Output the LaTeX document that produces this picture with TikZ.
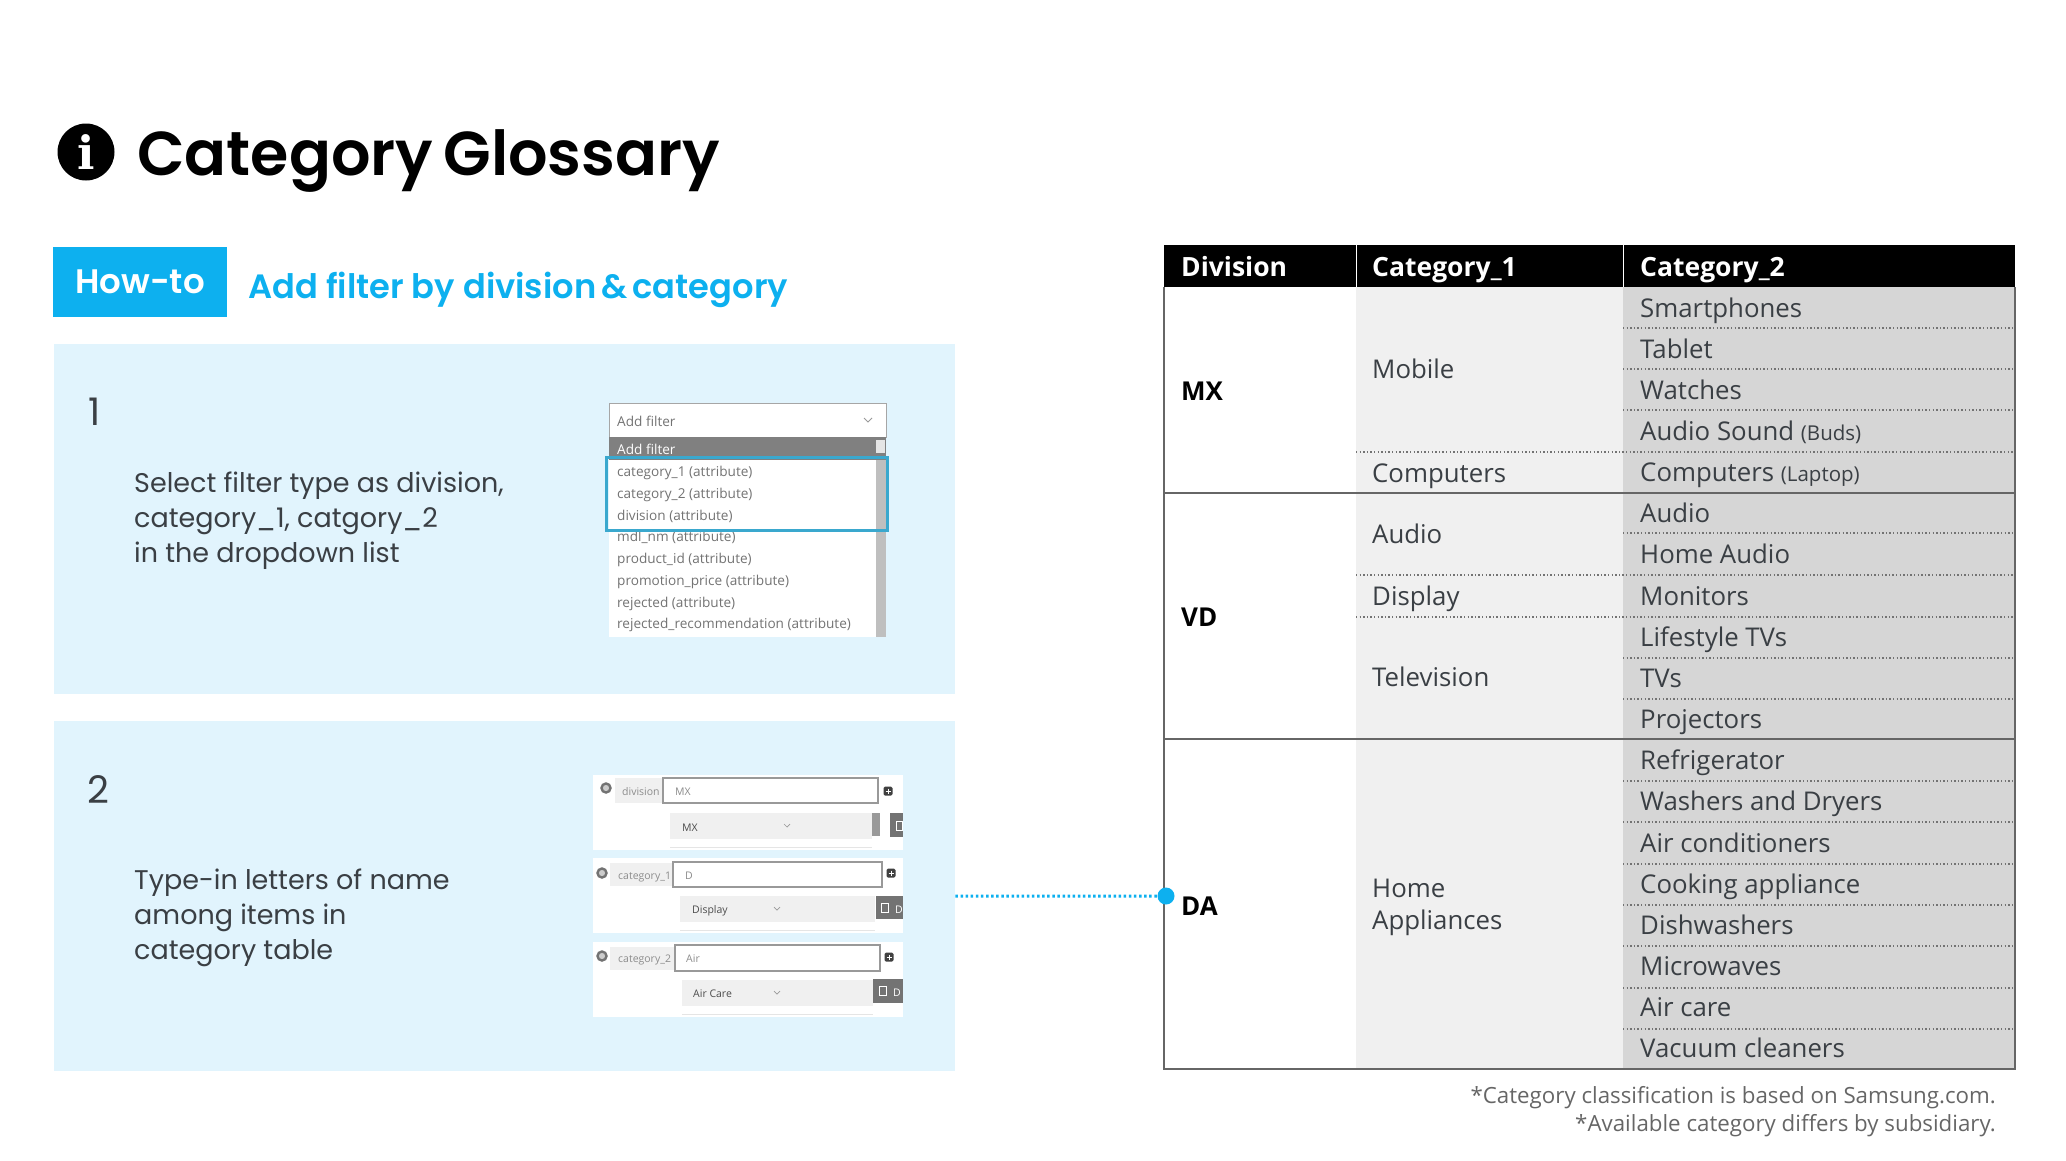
\documentclass[tikz,border=0pt]{standalone}
\usepackage{fontspec}
\usepackage{tikz}
\setmainfont{Open Sans}
\newfontfamily\headfont{Poppins}[BoldFont={Poppins SemiBold}]
\newfontfamily\iconfont{DejaVu Serif}
\definecolor{howblue}{HTML}{0DB0EF}
\definecolor{panelblue}{HTML}{E1F4FD}
\definecolor{boxblue}{HTML}{3AA8CE}
\definecolor{inktext}{HTML}{3A3F44}
\tikzstyle{every node}=[inner sep=0pt,anchor=base west]
\tikzstyle{panel}=[fill=panelblue,anchor=north west,minimum width=901pt,minimum height=350pt]
\tikzstyle{steptext}=[font=\headfont\fontsize{27}{35}\selectfont,text=inktext,align=left,anchor=north west]
\tikzstyle{headcell}=[font=\bfseries\fontsize{26.5}{30}\selectfont,text=white]
\tikzstyle{divcell}=[font=\bfseries\fontsize{26}{30}\selectfont,text=black]
\tikzstyle{tabcell}=[font=\fontsize{25.8}{32}\selectfont,text=inktext,align=left]
\tikzstyle{dotrule}=[black!55,line width=1.4pt,dash pattern=on 1.3pt off 2.3pt]
\tikzstyle{solidrule}=[black!60,line width=2pt]
\tikzstyle{listitem}=[font=\fontsize{13.6}{16}\selectfont,text=black!55]
\tikzstyle{shotsmall}=[font=\fontsize{10.5}{12}\selectfont,text=black!45]
\tikzstyle{shotdark}=[font=\fontsize{10.5}{12}\selectfont,text=black!70]
\tikzstyle{shotbtn}=[font=\fontsize{10.5}{12}\selectfont,text=white]
\tikzstyle{inputbox}=[fill=white,draw=black!40,line width=1.2pt]
\tikzstyle{chev}=[black!40,line width=.7pt]
\tikzstyle{plusbox}=[fill=black!75,rounded corners=1.5pt]
\tikzstyle{pluscross}=[white,line width=1pt]
\tikzstyle{btnicon}=[white,line width=.9pt]
\tikzstyle{ringdot}=[circle,draw=black!55,line width=2.4pt,fill=black!20,minimum size=9pt,anchor=center]
\newcommand{\sm}[1]{{\fontsize{20.5}{24}\selectfont #1}}

\begin{document}
\begin{tikzpicture}[x=1pt,y=-1pt]
\useasboundingbox (0,0) rectangle (2066,1160);
% heading
\node[circle,fill=black,text=white,minimum size=57pt,anchor=center,font=\iconfont\bfseries\fontsize{46}{46}\selectfont] (infoicon) at (86,152) {i};
\node[font=\headfont\bfseries\fontsize{62}{70}\selectfont,text=black] (title) at (137,175) {Category\hspace{-4.5pt} Glossary};
\node[fill=howblue,minimum width=174pt,minimum height=70pt,anchor=north west] (howbox) at (53,247) {};
\node[font=\headfont\bfseries\fontsize{34}{40}\selectfont,text=white,anchor=center] (howlabel) at (140,282) {How-to};
\node[font=\headfont\bfseries\fontsize{33.7}{40}\selectfont,text=howblue] (howtitle) at (248,298) {Add filter by division\hspace{-3pt} \&\hspace{-3pt} category};
% panels
\node[panel] (panela) at (54,344) {};
\node[panel] (panelb) at (54,721) {};
\node[font=\headfont\fontsize{38}{40}\selectfont,text=inktext] (numa) at (88,425) {1};
\node[font=\headfont\fontsize{38}{40}\selectfont,text=inktext] (numb) at (87,803) {2};
\node[steptext] (stepa) at (134,472) {Select filter type as division,\\category\_1, catgory\_2\\in the dropdown list};
\node[steptext] (stepb) at (134,869) {Type-in letters of name\\among items in\\category table};
% dropdown list
\fill[white] (609,437) rectangle (886,637);
\fill[white,draw=black!35,line width=1pt] (609,403) rectangle (886,437);
\fill[black!50] (609,437) rectangle (886,460);
\fill[black!25] (876,460) rectangle (886,637);
\fill[black!10] (876,440) rectangle (885,453);
\node[listitem] (addfilter) at (617,426) {Add filter};
\node[listitem,text=white] (addfilterb) at (617,454) {Add filter};
\draw[chev,line width=1pt] (864,418)--(868,422)--(872,418);
\foreach \nm/\ty/\lab in {itma/476/category\_1 (attribute),itmb/498/category\_2 (attribute),itmc/520/division (attribute),itmd/541/mdl\_nm (attribute),itme/563/product\_id (attribute),itmf/585/promotion\_price (attribute),itmg/607/rejected (attribute),itmh/628/rejected\_recommendation (attribute)}
\node[listitem] (\nm) at (617,\ty) {\lab};
\draw[boxblue,line width=3pt] (606,457) rectangle (887,530);
% filter cards
\fill[white] (593,775) rectangle (903,850);
\fill[white] (593,858) rectangle (903,933);
\fill[white] (593,942) rectangle (903,1017);
\fill[black!6] (615,778) rectangle (663,803);
\fill[black!6] (610,863) rectangle (673,886);
\fill[black!6] (610,947) rectangle (675,970);
\draw[inputbox] (663,778) rectangle (878,803);
\draw[inputbox] (673,862) rectangle (882,887);
\draw[inputbox] (675,945) rectangle (880,971);
\fill[black!6] (670,813) rectangle (872,839);
\fill[black!6] (680,896) rectangle (875,922);
\fill[black!6] (682,980) rectangle (873,1006);
\draw[black!10,line width=1pt] (670,847)--(872,847);
\draw[black!10,line width=1pt] (680,930)--(875,930);
\draw[black!10,line width=1pt] (682,1014)--(873,1014);
\fill[black!40] (872,813) rectangle (880,836);
\fill[black!55] (890,813) rectangle (903,837);
\fill[black!55] (876,896) rectangle (903,919);
\fill[black!55] (873,979) rectangle (903,1003);
\node[ringdot] (ringa) at (606,788) {};
\node[ringdot] (ringb) at (602,873) {};
\node[ringdot] (ringc) at (602,956) {};
\foreach \px/\py in {888/791,891/873,889/957}{
\fill[plusbox] (\px-4.5,\py-4.5) rectangle (\px+4.5,\py+4.5);
\draw[pluscross] (\px-2.5,\py)--(\px+2.5,\py) (\px,\py-2.5)--(\px,\py+2.5);
}
\node[shotsmall] (laba) at (622,795) {division};
\node[shotsmall] (labb) at (618,879) {category\_1};
\node[shotsmall] (labc) at (618,962) {category\_2};
\node[shotsmall] (inpa) at (675,795) {MX};
\node[shotsmall] (inpb) at (685,879) {D};
\node[shotsmall] (inpc) at (686,962) {Air};
\node[shotdark] (opta) at (682,831) {MX};
\node[shotdark] (optb) at (692,913) {Display};
\node[shotdark] (optc) at (693,997) {Air Care};
\node[shotbtn] (btnb) at (895,913) {D};
\node[shotbtn] (btnc) at (893,996) {D};
\draw[btnicon] (896,821) rectangle (902,830);
\draw[btnicon] (881,903) rectangle (888,912);
\draw[btnicon] (879,986) rectangle (886,995);
\draw[chev] (784,824)--(787,827)--(790,824);
\draw[chev] (774,907)--(777,910)--(780,907);
\draw[chev] (774,991)--(777,994)--(780,991);
% table
\fill[black!6] (1356,287) rectangle (1623,1069);
\fill[black!16] (1623,287) rectangle (2015,1069);
\fill[black] (1164,245) rectangle (2015,287);
\draw[white,line width=1pt] (1356,245)--(1356,287);
\draw[white,line width=1pt] (1623,245)--(1623,287);
\node[headcell] (headdiv) at (1181,276) {Division};
\node[headcell] (headcata) at (1372,276) {Category\_1};
\node[headcell] (headcatb) at (1640,276) {Category\_2};
\foreach \yy in {328,369,410,533,658,699,781,822,864,905,946,988,1029}
\draw[dotrule] (1623,\yy)--(2015,\yy);
\foreach \yy in {452,575,617}
\draw[dotrule] (1356,\yy)--(2015,\yy);
\foreach \yy in {493,739}
\draw[solidrule] (1164,\yy)--(2015,\yy);
\draw[solidrule] (1164,287)--(1164,1069)--(2015,1069)--(2015,287);
\foreach \nm/\ty/\lab in {cellMX/400/MX,cellVD/626/VD,cellDA/915/DA}
\node[divcell] (\nm) at (1181,\ty) {\lab};
\foreach \nm/\ty/\lab in {mobile/378/Mobile,computers/482/Computers,audio/543/Audio,display/605/Display,television/686/Television}
\node[tabcell] (\nm) at (1372,\ty) {\lab};
\node[tabcell,anchor=west] (homeapp) at (1372,907) {Home\\Appliances};
\foreach \nm/\rr/\lab in {rowa/0/Smartphones,rowb/1/Tablet,rowc/2/Watches,rowd/3/Audio Sound \sm{(Buds)},rowe/4/Computers \sm{(Laptop)},rowf/5/Audio,rowg/6/Home Audio,rowh/7/Monitors,rowi/8/Lifestyle TVs,rowj/9/TVs,rowk/10/Projectors,rowl/11/Refrigerator,rowm/12/Washers and Dryers,rown/13/Air conditioners,rowo/14/Cooking appliance,rowp/15/Dishwashers,rowq/16/Microwaves,rowr/17/Air care,rows/18/Vacuum cleaners}
\node[tabcell] (\nm) at (1640,{317+41.16*\rr}) {\lab};
% link from step 2 to the table
\node[circle,fill=howblue,minimum size=17pt,anchor=center] (dotDA) at (1166,896) {};
\draw[howblue,line width=3pt,dash pattern=on 2.5pt off 2.6pt] (panelb.east)--(dotDA);
% notes
\node[font=\fontsize{22.3}{28}\selectfont,text=black!60,align=right,anchor=north east] (notes) at (1996,1086) {*Category classification is based on Samsung.com.\\*Available category differs by subsidiary.};
\end{tikzpicture}
\end{document}
